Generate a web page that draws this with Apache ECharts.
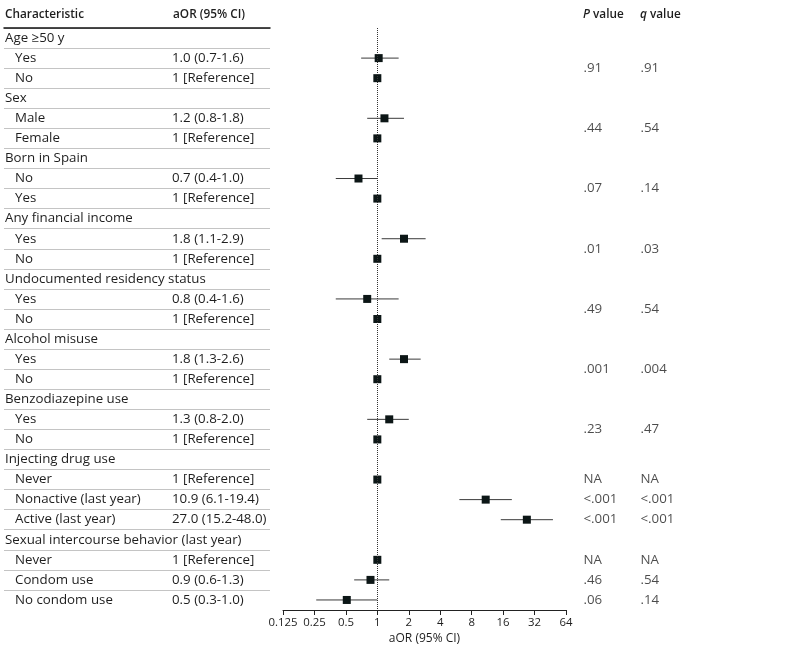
<!DOCTYPE html>
<html>
<head>
<meta charset="utf-8">
<script src="https://cdn.jsdelivr.net/npm/echarts@6/dist/echarts.min.js"></script>
<style>
  html, body { margin: 0; padding: 0; background: #fff; }
  #forest_chart { width: 786px; height: 657px; }
</style>
</head>
<body>
<div id="forest_chart"></div>
<script>
// table rows, top to bottom (headings have no aOR text)
const rowLabels = [
    'Age ≥50 y', 'Yes', 'No',
    'Sex', 'Male', 'Female',
    'Born in Spain', 'No', 'Yes',
    'Any financial income', 'Yes', 'No',
    'Undocumented residency status', 'Yes', 'No',
    'Alcohol misuse', 'Yes', 'No',
    'Benzodiazepine use', 'Yes', 'No',
    'Injecting drug use', 'Never', 'Nonactive (last year)', 'Active (last year)',
    'Sexual intercourse behavior (last year)', 'Never', 'Condom use', 'No condom use'
];
const aorText = [
    '', '1.0 (0.7-1.6)', '1 [Reference]',
    '', '1.2 (0.8-1.8)', '1 [Reference]',
    '', '0.7 (0.4-1.0)', '1 [Reference]',
    '', '1.8 (1.1-2.9)', '1 [Reference]',
    '', '0.8 (0.4-1.6)', '1 [Reference]',
    '', '1.8 (1.3-2.6)', '1 [Reference]',
    '', '1.3 (0.8-2.0)', '1 [Reference]',
    '', '1 [Reference]', '10.9 (6.1-19.4)', '27.0 (15.2-48.0)',
    '', '1 [Reference]', '0.9 (0.6-1.3)', '0.5 (0.3-1.0)'
];
const estimate = [
    null, 1.03, 1,
    null, 1.17, 1,
    null, 0.66, 1,
    null, 1.8, 1,
    null, 0.8, 1,
    null, 1.8, 1,
    null, 1.3, 1,
    null, 1, 10.9, 27.0,
    null, 1, 0.86, 0.51
];
const ciLow = [
    null, 0.7, null,
    null, 0.8, null,
    null, 0.4, null,
    null, 1.1, null,
    null, 0.4, null,
    null, 1.3, null,
    null, 0.8, null,
    null, null, 6.1, 15.2,
    null, null, 0.6, 0.26
];
const ciHigh = [
    null, 1.6, null,
    null, 1.8, null,
    null, 1.0, null,
    null, 2.9, null,
    null, 1.6, null,
    null, 2.6, null,
    null, 2.0, null,
    null, null, 19.4, 48.0,
    null, null, 1.3, 1.0
];
// P / q values and the row they sit on (x.5 = between two rows)
const pqRow = [1.5, 4.5, 7.5, 10.5, 13.5, 16.5, 19.5, 22, 23, 24, 26, 27, 28];
const pText = ['.91', '.44', '.07', '.01', '.49', '.001', '.23', 'NA', '<.001', '<.001', 'NA', '.46', '.06'];
const qText = ['.91', '.54', '.14', '.03', '.54', '.004', '.47', 'NA', '<.001', '<.001', 'NA', '.54', '.14'];
const xTicks = [0.125, 0.25, 0.5, 1, 2, 4, 8, 16, 32, 64];
const xTickLabels = ['0.125', '0.25', '0.5', '1', '2', '4', '8', '16', '32', '64'];

const FONT = "'Open Sans SemiCondensed', 'Open Sans', 'Roboto', sans-serif";
const FS = 13.3;
const TXT = '#1e1e1e';
const TOP = 28;
const HEIGHT = 582;
const nRows = rowLabels.length;

function isHeading(i) {
    return aorText[i] === '';
}

const myChart = echarts.init(document.getElementById('forest_chart'));

const ciData = [];
const estData = [];
for (let i = 0; i < nRows; i++) {
    if (ciLow[i] != null) ciData.push([ciLow[i], ciHigh[i], i]);
    if (estimate[i] != null) estData.push([estimate[i], i]);
}

// row separators: no line under the last row
const sepColors = [];
for (let i = 0; i <= nRows; i++) sepColors.push(i === nRows ? 'rgba(0,0,0,0)' : '#c4c4c4');

function tickLabel(v) {
    let best = 0;
    for (let k = 0; k < xTicks.length; k++) {
        if (Math.abs(Math.log2(xTicks[k]) - Math.log2(v)) < Math.abs(Math.log2(xTicks[best]) - Math.log2(v))) best = k;
    }
    return xTickLabels[best];
}

const HFS = 11.8;
const headFont = '600 ' + HFS + 'px ' + FONT;
const italicRich = { i: { fontStyle: 'italic', fontWeight: 600, fontSize: HFS, fontFamily: FONT, fill: TXT } };

const option = {
    animation: false,
    textStyle: { fontFamily: FONT },
    grid: [
        { left: 4, width: 266, top: TOP, height: HEIGHT },
        { left: 283, width: 283, top: TOP, height: HEIGHT },
        { left: 583, width: 57, top: TOP, height: HEIGHT }
    ],
    graphic: [
        { type: 'text', left: 5, top: 9, style: { text: 'Characteristic', font: headFont, fill: TXT } },
        { type: 'text', left: 173, top: 9, style: { text: 'aOR (95% CI)', font: headFont, fill: TXT } },
        { type: 'text', left: 583, top: 9, style: { text: '{i|P} value', font: headFont, fill: TXT, rich: italicRich } },
        { type: 'text', left: 640, top: 9, style: { text: '{i|q} value', font: headFont, fill: TXT, rich: italicRich } }
    ],
    xAxis: [
        {
            gridIndex: 0, type: 'value', position: 'top', min: 0, max: 1,
            axisLine: { show: true, lineStyle: { color: '#111', width: 1.5 } },
            axisTick: { show: false }, axisLabel: { show: false }, splitLine: { show: false }
        },
        {
            gridIndex: 1, type: 'log', logBase: 2, min: 0.125, max: 64, interval: 1, splitNumber: 9,
            axisLine: { show: true, onZero: false, lineStyle: { color: '#222', width: 1 } },
            axisTick: { show: true, length: 5, lineStyle: { color: '#222' } },
            axisLabel: { color: TXT, fontSize: 11.4, fontFamily: FONT, margin: 7, formatter: tickLabel },
            splitLine: { show: false },
            name: 'aOR (95% CI)', nameLocation: 'middle', nameGap: 21,
            nameTextStyle: { color: TXT, fontSize: 12, fontFamily: FONT }
        },
        { gridIndex: 2, type: 'value', min: 0, max: 1, show: false }
    ],
    yAxis: [
        {
            gridIndex: 0, type: 'category', inverse: true, data: rowLabels, position: 'left',
            axisLine: { show: false }, axisTick: { show: false },
            splitLine: { show: true, lineStyle: { color: sepColors, width: 1 } },
            axisLabel: {
                inside: true, margin: 1, interval: 0, color: TXT, fontSize: FS, fontFamily: FONT,
                formatter: function (v, i) {
                    return isHeading(i) ? v : '{i|' + v + '}';
                },
                rich: { i: { padding: [0, 0, 0, 10], fontSize: FS, color: TXT, fontFamily: FONT } }
            }
        },
        {
            gridIndex: 0, type: 'category', inverse: true, data: aorText, position: 'left', offset: -168,
            axisLine: { show: false }, axisTick: { show: false }, splitLine: { show: false },
            axisLabel: { inside: true, margin: 0, interval: 0, color: TXT, fontSize: FS, fontFamily: FONT }
        },
        { gridIndex: 1, type: 'value', inverse: true, min: -0.5, max: nRows - 0.5, show: false },
        { gridIndex: 2, type: 'value', inverse: true, min: -0.5, max: nRows - 0.5, show: false }
    ],
    series: [
        {
            type: 'custom', xAxisIndex: 1, yAxisIndex: 2,
            data: ciData,
            encode: { x: [0, 1], y: 2 },
            renderItem: function (params, api) {
                const a = api.coord([api.value(0), api.value(2)]);
                const b = api.coord([api.value(1), api.value(2)]);
                return {
                    type: 'line',
                    shape: { x1: a[0], y1: a[1], x2: b[0], y2: b[1] },
                    style: { stroke: '#3a3a3a', lineWidth: 1 }
                };
            },
            z: 2
        },
        {
            type: 'scatter', xAxisIndex: 1, yAxisIndex: 2,
            data: estData, symbol: 'rect', symbolSize: 8,
            itemStyle: { color: '#0c1616', opacity: 1 },
            z: 3,
            markLine: {
                silent: true, symbol: 'none', label: { show: false },
                lineStyle: { type: 'dotted', color: '#333', width: 1 },
                data: [{ xAxis: 1 }]
            }
        },
        {
            type: 'scatter', xAxisIndex: 2, yAxisIndex: 3,
            data: pqRow.map(r => [0, r]), symbolSize: 1, itemStyle: { color: 'rgba(0,0,0,0)' },
            label: { show: true, position: 'right', distance: 0, color: TXT, fontSize: FS, fontFamily: FONT, formatter: p => pText[p.dataIndex] }
        },
        {
            type: 'scatter', xAxisIndex: 2, yAxisIndex: 3,
            data: pqRow.map(r => [1, r]), symbolSize: 1, itemStyle: { color: 'rgba(0,0,0,0)' },
            label: { show: true, position: 'right', distance: 0, color: TXT, fontSize: FS, fontFamily: FONT, formatter: p => qText[p.dataIndex] }
        }
    ]
};

option && myChart.setOption(option);
</script>
</body>
</html>
